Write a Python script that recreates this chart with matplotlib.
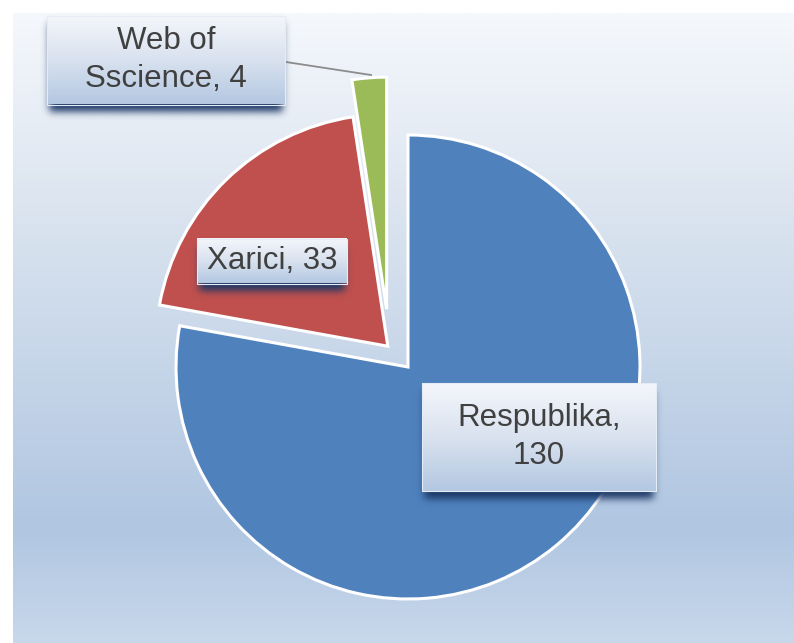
import math
import numpy as np
import matplotlib
matplotlib.use("Agg")
from matplotlib import pyplot as plt
from matplotlib.colors import LinearSegmentedColormap, to_rgb
from matplotlib.patches import Rectangle

# data
names = ["Respublika", "Xarici", "Web of\nSscience"]
values = [130, 33, 4]
seps = [",\n", ", ", ", "]
colors = ["#4F81BD", "#C0504D", "#9BBB59"]
explode = [0.0, 0.125, 0.25]

W, H = 794, 643
R = 232                      # pie radius, px
CX, CY = 408, 367            # pie centre, px from top-left


def py(y):
    # top-left pixel y -> axes y (y up)
    return H - y


def shadow(ax, x0, y0, w, h, drop=8, s=5.5, color="#1C3765", amax=1.0):
    pad = int(4 * s)
    xs = np.arange(x0 - pad, x0 + w + pad + 1)
    ys = np.arange(y0 - pad - drop, y0 + h + pad + 1)
    erf = np.vectorize(math.erf)
    ax_ = 0.5 * (erf((xs - (x0 + 2)) / s) - erf((xs - (x0 + w - 2)) / s))
    ay_ = 0.5 * (erf((ys - (y0 - drop)) / s) - erf((ys - (y0 + h - drop)) / s))
    img = np.zeros((len(ys), len(xs), 4))
    img[..., :3] = to_rgb(color)
    img[..., 3] = np.outer(ay_, ax_) * amax
    ax.imshow(img[::-1], extent=[xs[0], xs[-1], ys[0], ys[-1]], zorder=4,
              aspect="auto", interpolation="bilinear")


box_cmap = LinearSegmentedColormap.from_list(
    "box", ["#F4F6FB", "#D9E2EF", "#B4C8E2"])


def label_box(ax, cx, cy, w, h, text):
    x0, y0 = cx - w / 2, py(cy) - h / 2
    shadow(ax, x0, y0, w, h)
    grad = np.linspace(0, 1, 100).reshape(-1, 1)
    ax.imshow(grad, extent=[x0, x0 + w, y0, y0 + h], cmap=box_cmap, zorder=5,
              aspect="auto", interpolation="bilinear")
    ax.add_patch(Rectangle((x0, y0), w, h, facecolor="none", edgecolor="#E6ECF5",
                           linewidth=0.8, zorder=6))
    ax.text(cx, py(cy), text, ha="center", va="center", fontsize=22.5,
            color="#404040", family="Liberation Sans", linespacing=1.32, zorder=7)


fig = plt.figure(figsize=(W / 100, H / 100), dpi=100)

# chart area background
bg = fig.add_axes([13 / W, 0, 1 - 13 / W, (H - 13) / H])
bg_cmap = LinearSegmentedColormap.from_list(
    "bg", [(0.0, "#F5F8FC"), (0.3, "#DCE5F0"), (0.82, "#B0C6E1"), (1.0, "#C8D8EB")])
bg.imshow(np.linspace(0, 1, 256).reshape(-1, 1), aspect="auto", cmap=bg_cmap,
          extent=[0, 1, 0, 1], interpolation="bilinear")
bg.axis("off")

ax = fig.add_axes([0, 0, 1, 1])
wedges, _ = ax.pie(values, explode=[e * R for e in explode], colors=colors,
                   startangle=90, counterclock=False, radius=R,
                   center=(CX, py(CY)),
                   wedgeprops=dict(edgecolor="white", linewidth=2.2))
# the small slice sits a bit further left in the original
gx, gy = wedges[2].center
wedges[2].set_center((gx - 17, gy))

labels = [f"{n}{s}{v}" for n, s, v in zip(names, seps, values)]

# leader line for the small slice
ax.plot([286, 371], [py(62), py(75)], color="#8C8C8C", linewidth=1.3, zorder=3)

label_box(ax, 539, 437, 234, 108, labels[0])
label_box(ax, 272, 261, 150, 45, labels[1])
label_box(ax, 166, 60, 238, 89, labels[2])

ax.set_xlim(0, W)
ax.set_ylim(0, H)
ax.axis("off")

fig.savefig("out.png", dpi=100)
